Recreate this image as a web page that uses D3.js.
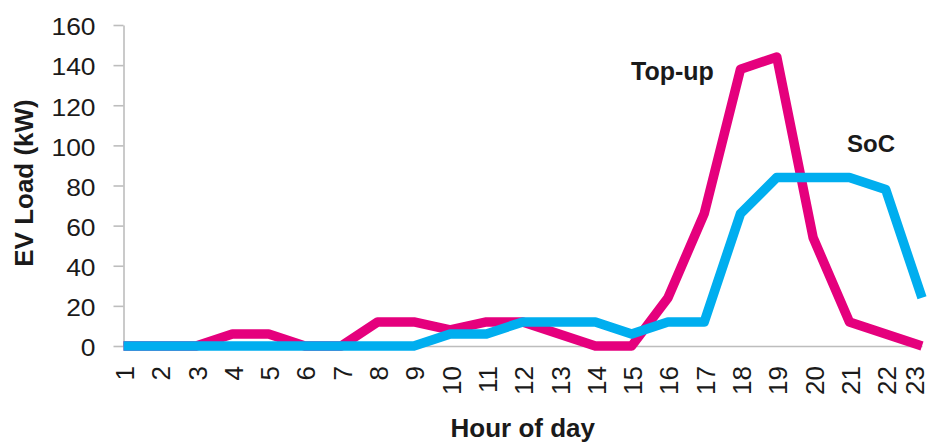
<!DOCTYPE html>
<html>
<head>
<meta charset="utf-8">
<script src="https://cdn.jsdelivr.net/npm/d3@7"></script>
<style>
  html, body { margin: 0; padding: 0; background: #fff; }
  svg { display: block; }
  text { font-family: "Liberation Sans", Arial, sans-serif; fill: #1a1a1a; }
</style>
</head>
<body>
<svg id="chart" width="930" height="443"></svg>
<script>
// Hourly EV charging load for two charging strategies
const hours = d3.range(1, 24);
const topUp = [0, 0, 0, 6, 6, 0, 0, 12, 12, 8, 12, 12, 6, 0, 0, 24, 66, 138, 144, 54, 12, 6, 0];
const soc   = [0, 0, 0, 0, 0, 0, 0, 0, 0, 6, 6, 12, 12, 12, 6, 12, 12, 66, 84, 84, 84, 78, 24];
const yTicks = [0, 20, 40, 60, 80, 100, 120, 140, 160];

const seriesList = [
  { name: "Top-up", values: topUp, color: "#E5007D" },
  { name: "SoC",    values: soc,   color: "#00AEEF" }
];

const svg = d3.select("#chart");
const x = d3.scaleLinear().domain([1, 23]).range([123.5, 922]);
const y = d3.scaleLinear().domain([0, 160]).range([346, 25]);
const axisColor = "#BDBDBD";

// Y axis
const yAxis = svg.append("g")
  .attr("transform", `translate(${x(1)},0)`)
  .call(d3.axisLeft(y).tickValues(yTicks).tickSize(10).tickPadding(18).tickSizeOuter(0));
yAxis.select(".domain").attr("stroke", axisColor).attr("stroke-width", 1.6);
yAxis.selectAll(".tick line").attr("stroke", axisColor).attr("stroke-width", 1.6);
yAxis.selectAll(".tick text")
  .attr("font-size", 24)
  .attr("dy", "0.41em")
  .style("font-family", "'Liberation Sans', Arial, sans-serif")
  .attr("fill", "#1a1a1a")
  .each(function () {
    const t = d3.select(this);
    const tx = +t.attr("x");
    t.attr("transform", `translate(${tx},0) scale(1.1,1) translate(${-tx},0)`);
  });

// X axis (the last label is nudged in so it stays on the page)
const lastHour = hours[hours.length - 1];
const xAxis = svg.append("g")
  .attr("transform", `translate(0,${y(0)})`)
  .call(d3.axisBottom(x).tickValues(hours).tickFormat(d3.format("d")).tickSize(0).tickSizeOuter(0));
xAxis.select(".domain").attr("stroke", axisColor).attr("stroke-width", 1.6);
xAxis.selectAll(".tick text")
  .attr("font-size", 26)
  .attr("fill", "#1a1a1a")
  .attr("text-anchor", "end")
  .attr("x", 0).attr("y", 0).attr("dy", null)
  .attr("transform", d => `translate(${d === lastHour ? 1 : 10},20) rotate(-90)`)
  .style("font-family", "'Liberation Sans', Arial, sans-serif");

// Series lines (SoC drawn last so it sits on top)
const line = d3.line()
  .x((d, i) => x(hours[i]))
  .y(d => y(d));

svg.append("g").selectAll("path")
  .data(seriesList)
  .join("path")
  .attr("d", d => line(d.values))
  .attr("fill", "none")
  .attr("stroke", d => d.color)
  .attr("stroke-width", 9.5)
  .attr("stroke-linejoin", "round")
  .attr("stroke-linecap", "butt");

// Series labels
svg.append("text")
  .attr("x", 631).attr("y", 80)
  .attr("font-size", 25).attr("font-weight", "bold")
  .text(seriesList[0].name);
svg.append("text")
  .attr("x", 847).attr("y", 152)
  .attr("font-size", 24).attr("font-weight", "bold")
  .text(seriesList[1].name);

// Axis titles
svg.append("text")
  .attr("x", (x(1) + x(23)) / 2).attr("y", 437)
  .attr("text-anchor", "middle")
  .attr("font-size", 26).attr("font-weight", "bold")
  .text("Hour of day");
svg.append("text")
  .attr("transform", "translate(33,183) rotate(-90)")
  .attr("text-anchor", "middle")
  .attr("font-size", 26).attr("font-weight", "bold")
  .text("EV Load (kW)");
</script>
</body>
</html>
